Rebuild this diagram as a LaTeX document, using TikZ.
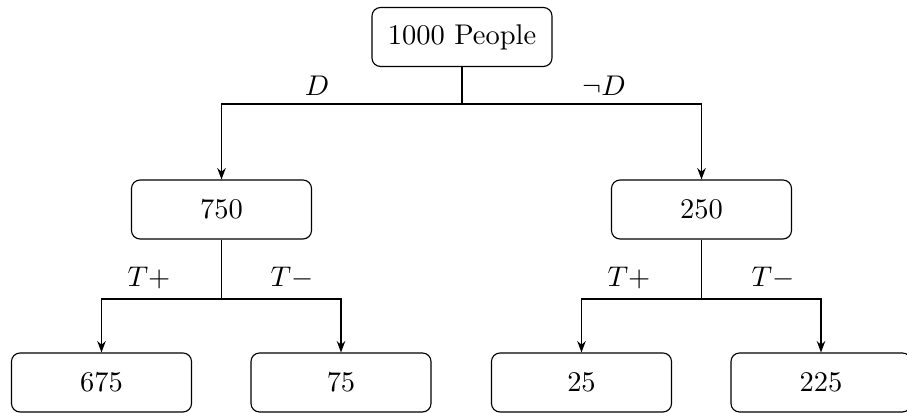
\documentclass[tikz,border=0pt]{standalone}
\usetikzlibrary{arrows.meta}
\begin{document}
\begin{tikzpicture}[x=0.351pt,y=-0.351pt,
  box/.style={draw,rounded corners=3pt,minimum width=63.2pt,minimum height=20.7pt,inner sep=0pt,line width=0.4pt},
  conn/.style={line width=0.4pt},
  arr/.style={line width=0.4pt,-{Stealth[length=4pt,width=3pt]}},
  lbl/.style={inner sep=0pt}]
\useasboundingbox (0,0) rectangle (907,413);
\node[box] (root) at (462,37) {1000 People};
\node[box] (a) at (221.5,209.5) {750};
\node[box] (b) at (701.5,209.5) {250};
\node[box] (aa) at (101.5,382.5) {675};
\node[box] (ab) at (341,382.5) {75};
\node[box] (ba) at (581.5,382.5) {25};
\node[box] (bb) at (821,382.5) {225};
\coordinate (j0) at (462,104);
\coordinate (ja) at (221.5,299);
\coordinate (jb) at (701.5,299);
\draw[conn] (root.south) -- (j0);
\draw[arr] (j0) -| (a.north);
\draw[arr] (j0) -| (b.north);
\draw[conn] (a.south) -- (ja);
\draw[arr] (ja) -| (aa.north);
\draw[arr] (ja) -| (ab.north);
\draw[conn] (b.south) -- (jb);
\draw[arr] (jb) -| (ba.north);
\draw[arr] (jb) -| (bb.north);
\node[lbl] (lD) at (317,86) {$D$};
\node[lbl] (lnD) at (604,86) {$\neg D$};
\node[lbl] (l1) at (149,278) {$T+$};
\node[lbl] (l2) at (292,278) {$T-$};
\node[lbl] (l3) at (629,278) {$T+$};
\node[lbl] (l4) at (773,278) {$T-$};
\end{tikzpicture}
\end{document}
